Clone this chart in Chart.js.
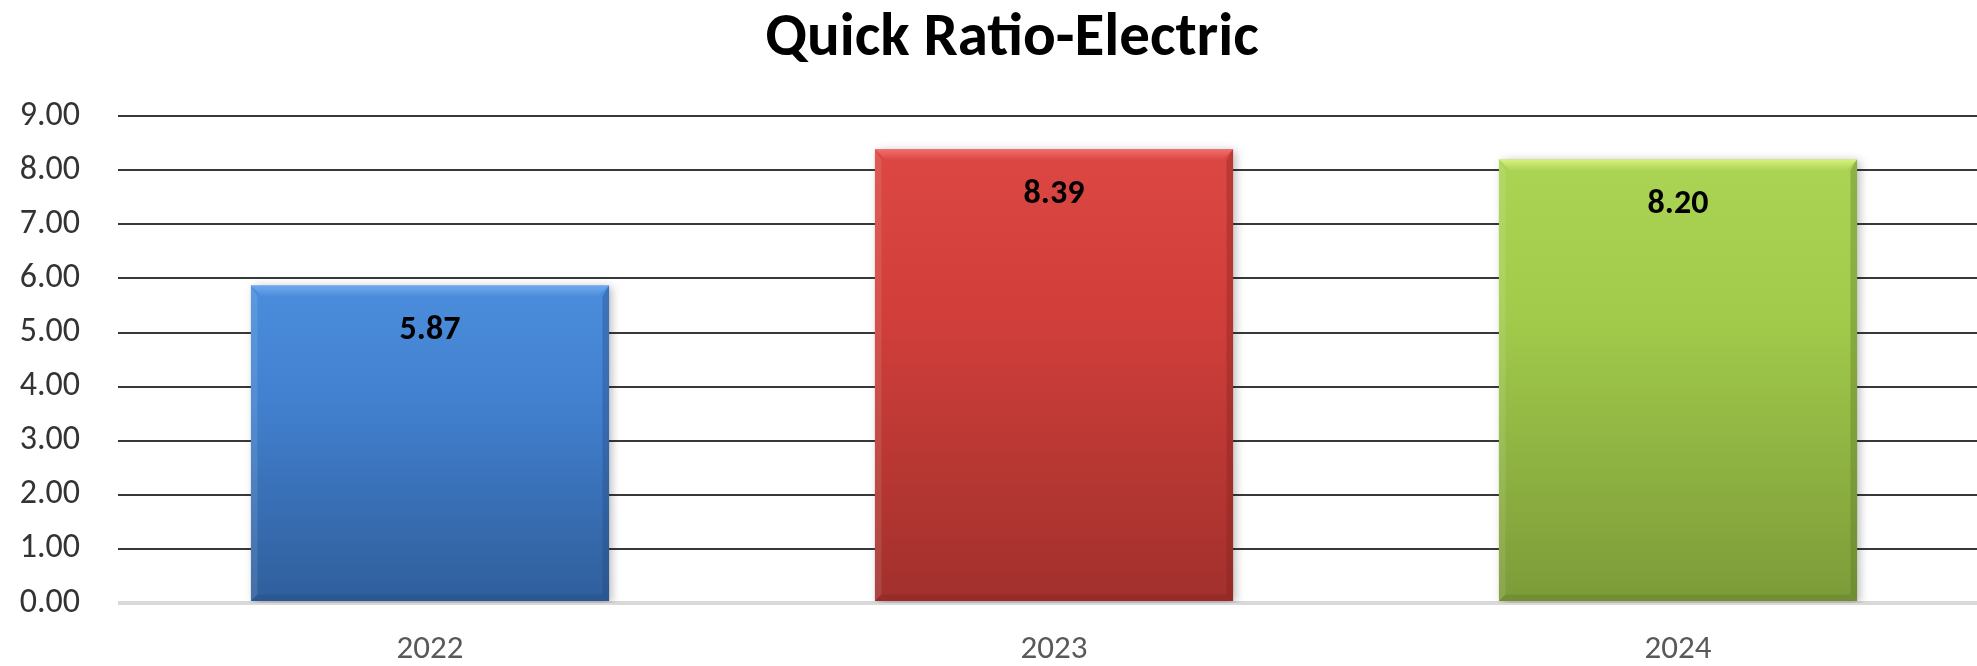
<!DOCTYPE html>
<html>
<head>
<meta charset="utf-8">
<script src="https://cdn.jsdelivr.net/npm/chart.js@4.4.1/dist/chart.umd.min.js"></script>
<style>
  html, body { margin: 0; padding: 0; background: #ffffff; overflow: hidden; }
  #wrap { width: 1977px; height: 666px; overflow: hidden; position: relative; }
  canvas { display: block; }
</style>
</head>
<body>
<div id="wrap"><canvas id="c" width="2024" height="666"></canvas></div>
<script>
const chartTitle = "Quick Ratio-Electric";
const categories = ["2022", "2023", "2024"];
const quickRatio = [5.87, 8.39, 8.20];
const yTickValues = [0, 1, 2, 3, 4, 5, 6, 7, 8, 9];

const FONT = "Carlito, Lato, 'Open Sans', sans-serif";
const palette = [
  { top: "#4b8ddc", mid: "#4281d0", bottom: "#2f5e9b", bevel: "#74aef0", dark: "#24497a" },
  { top: "#dc4743", mid: "#d23f3b", bottom: "#a1302c", bevel: "#f37470", dark: "#7d211e" },
  { top: "#abd454", mid: "#a2cb4b", bottom: "#7c9b39", bevel: "#dcf585", dark: "#5a7226" }
];

function barGradient(ctx) {
  const chart = ctx.chart;
  const area = chart.chartArea;
  const p = palette[ctx.dataIndex % palette.length];
  if (!area) return p.mid;
  const ys = chart.scales.y;
  const top = ys.getPixelForValue(quickRatio[ctx.dataIndex]);
  const base = ys.getPixelForValue(0);
  const g = chart.ctx.createLinearGradient(0, top, 0, base);
  g.addColorStop(0, p.top);
  g.addColorStop(0.35, p.mid);
  g.addColorStop(1, p.bottom);
  return g;
}

const bevelPlugin = {
  id: "bevel",
  beforeDatasetDraw(chart) {
    const c = chart.ctx;
    c.save();
    c.shadowColor = "rgba(0,0,0,0.28)";
    c.shadowBlur = 9;
    c.shadowOffsetX = 3;
    c.shadowOffsetY = 2;
  },
  afterDatasetDraw(chart, args) {
    chart.ctx.restore();
    const c = chart.ctx;
    const meta = args.meta;
    meta.data.forEach((bar, i) => {
      const p = palette[i % palette.length];
      const l = bar.x - bar.width / 2, r = bar.x + bar.width / 2;
      const t = bar.y, b = bar.base;
      const d = 11;
      c.save();
      c.beginPath();
      c.moveTo(l, t); c.lineTo(r, t); c.lineTo(r - d, t + d); c.lineTo(l + d, t + d); c.closePath();
      const gt = c.createLinearGradient(0, t, 0, t + d);
      gt.addColorStop(0, p.bevel); gt.addColorStop(1, p.top);
      c.fillStyle = gt; c.globalAlpha = 0.9; c.fill();
      c.beginPath();
      c.moveTo(l, t); c.lineTo(l + d * 0.6, t + d); c.lineTo(l + d * 0.6, b - d * 0.6); c.lineTo(l, b); c.closePath();
      c.fillStyle = "rgba(255,255,255,0.10)"; c.globalAlpha = 1; c.fill();
      c.beginPath();
      c.moveTo(r, t); c.lineTo(r - d * 0.6, t + d); c.lineTo(r - d * 0.6, b - d * 0.6); c.lineTo(r, b); c.closePath();
      c.fillStyle = p.dark; c.globalAlpha = 0.35; c.fill();
      c.beginPath();
      c.moveTo(l, b); c.lineTo(l + d * 0.6, b - d * 0.6); c.lineTo(r - d * 0.6, b - d * 0.6); c.lineTo(r, b); c.closePath();
      c.fillStyle = p.dark; c.globalAlpha = 0.3; c.fill();
      c.restore();
    });
  }
};

const valueLabelPlugin = {
  id: "valueLabels",
  afterDatasetsDraw(chart) {
    const c = chart.ctx;
    const meta = chart.getDatasetMeta(0);
    c.save();
    c.font = "bold 34px " + FONT;
    c.fillStyle = "#000000";
    c.textAlign = "center";
    c.textBaseline = "middle";
    meta.data.forEach((bar, i) => {
      c.fillText(quickRatio[i].toFixed(2), bar.x, bar.y + 45);
    });
    c.restore();
  }
};

new Chart(document.getElementById("c"), {
  type: "bar",
  data: {
    labels: categories,
    datasets: [{
      data: quickRatio,
      backgroundColor: barGradient,
      borderWidth: 0,
      barPercentage: 1.0,
      categoryPercentage: 0.574
    }]
  },
  options: {
    responsive: false,
    animation: false,
    devicePixelRatio: 1,
    layout: { padding: 0 },
    plugins: {
      legend: { display: false },
      tooltip: { enabled: false },
      title: {
        display: true,
        text: chartTitle,
        color: "#000000",
        font: { family: FONT, size: 61, weight: "bold", lineHeight: 1.2 },
        padding: { top: 3, bottom: 40 }
      }
    },
    scales: {
      x: {
        grid: { display: false, drawTicks: false },
        border: { display: false },
        ticks: { color: "#595959", font: { family: FONT, size: 33 }, padding: 27 },
        afterFit(s) { s.height = 63; }
      },
      y: {
        min: 0,
        max: 9,
        afterBuildTicks(s) { s.ticks = yTickValues.map(v => ({ value: v })); },
        grid: {
          drawTicks: false,
          color: (ctx) => ctx.tick && ctx.tick.value === 0 ? "#d9d9d9" : "#383838",
          lineWidth: (ctx) => ctx.tick && ctx.tick.value === 0 ? 4 : 2
        },
        border: { display: false },
        ticks: {
          color: "#333333",
          font: { family: FONT, size: 34 },
          padding: 38,
          callback: (v) => Number(v).toFixed(2)
        },
        afterFit(s) { s.width = 118; }
      },
      y2: {
        position: "right",
        display: true,
        grid: { display: false, drawTicks: false },
        border: { display: false },
        ticks: { display: false },
        afterFit(s) { s.width = 34; }
      }
    }
  },
  plugins: [bevelPlugin, valueLabelPlugin]
});
</script>
</body>
</html>
